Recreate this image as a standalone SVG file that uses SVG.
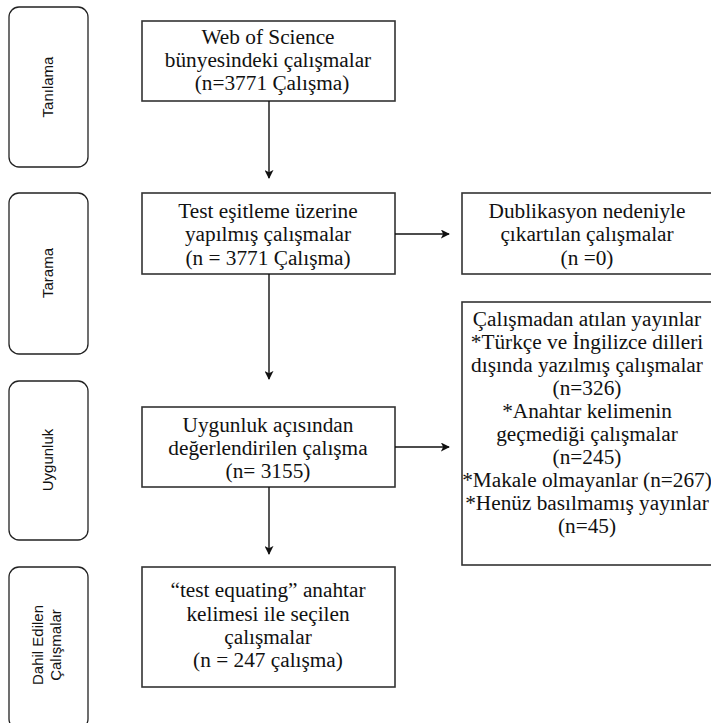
<svg xmlns="http://www.w3.org/2000/svg" width="711" height="723" viewBox="0 0 711 723">
<defs>
<style>
.stage{fill:#fff;stroke:#222;stroke-width:1.3}
.box{fill:#fff;stroke:#333;stroke-width:1.6}
.side{font-family:"Liberation Sans",Arial,sans-serif;font-size:15px;fill:#111;text-anchor:middle}
.t{font-family:"Liberation Serif","Times New Roman",serif;font-size:21.3px;fill:#111;text-anchor:middle}
.conn{stroke:#111;stroke-width:1.4;fill:none}
</style>
<marker id="ah" viewBox="0 0 10 10" refX="9" refY="5" markerWidth="9" markerHeight="9" markerUnits="userSpaceOnUse" orient="auto">
<path d="M0,0 L10,5 L0,10 L2.5,5 z" fill="#111"/>
</marker>
</defs>
<rect width="711" height="723" fill="#fff"/>

<g id="stage-tanilama">
<rect class="stage" x="9" y="7" width="79" height="160" rx="10"/>
<text class="side" transform="translate(53,87) rotate(-90)">Tanılama</text>
</g>
<g id="stage-tarama">
<rect class="stage" x="9" y="193" width="79" height="161" rx="10"/>
<text class="side" transform="translate(53,273) rotate(-90)">Tarama</text>
</g>
<g id="stage-uygunluk">
<rect class="stage" x="9" y="381" width="79" height="159" rx="10"/>
<text class="side" transform="translate(53,460) rotate(-90)">Uygunluk</text>
</g>
<g id="stage-dahil">
<rect class="stage" x="9" y="567" width="79" height="162" rx="10"/>
<text class="side" transform="translate(43,645) rotate(-90)">Dahil Edilen</text>
<text class="side" transform="translate(61,645) rotate(-90)">Çalışmalar</text>
</g>

<g id="node-wos">
<rect class="box" x="142" y="21" width="253" height="80"/>
<text class="t" x="268" y="44">Web of Science</text>
<text class="t" x="268" y="67">bünyesindeki çalışmalar</text>
<text class="t" x="272" y="90">(n=3771 Çalışma)</text>
</g>
<g id="node-test">
<rect class="box" x="142" y="193" width="253" height="81"/>
<text class="t" x="268" y="218">Test eşitleme üzerine</text>
<text class="t" x="268" y="241">yapılmış çalışmalar</text>
<text class="t" x="268" y="265">(n = 3771 Çalışma)</text>
</g>
<g id="node-dub">
<rect class="box" x="462" y="193" width="252" height="81"/>
<text class="t" x="587" y="218">Dublikasyon nedeniyle</text>
<text class="t" x="587" y="241">çıkartılan çalışmalar</text>
<text class="t" x="587" y="265">(n =0)</text>
</g>
<g id="node-uyg">
<rect class="box" x="142" y="407" width="253" height="80"/>
<text class="t" x="268" y="432">Uygunluk açısından</text>
<text class="t" x="268" y="455">değerlendirilen çalışma</text>
<text class="t" x="268" y="478">(n= 3155)</text>
</g>
<g id="node-excl">
<rect class="box" x="462" y="302" width="252" height="263"/>
<text class="t" x="587" y="326">Çalışmadan atılan yayınlar</text>
<text class="t" x="587" y="349">*Türkçe ve İngilizce dilleri</text>
<text class="t" x="587" y="372">dışında yazılmış çalışmalar</text>
<text class="t" x="587" y="395">(n=326)</text>
<text class="t" x="587" y="418">*Anahtar kelimenin</text>
<text class="t" x="587" y="441">geçmediği çalışmalar</text>
<text class="t" x="587" y="464">(n=245)</text>
<text class="t" x="587" y="487">*Makale olmayanlar (n=267)</text>
<text class="t" x="587" y="510">*Henüz basılmamış yayınlar</text>
<text class="t" x="587" y="533">(n=45)</text>
</g>
<g id="node-dahil">
<rect class="box" x="142" y="567" width="253" height="120"/>
<text class="t" x="268" y="597">“test equating” anahtar</text>
<text class="t" x="268" y="621">kelimesi ile seçilen</text>
<text class="t" x="268" y="644">çalışmalar</text>
<text class="t" x="268" y="667">(n = 247 çalışma)</text>
</g>

<g id="connectors">
<line class="conn" x1="269" y1="101" x2="269" y2="178" marker-end="url(#ah)"/>
<line class="conn" x1="395" y1="234" x2="449" y2="234" marker-end="url(#ah)"/>
<line class="conn" x1="269" y1="274" x2="269" y2="379" marker-end="url(#ah)"/>
<line class="conn" x1="395" y1="447" x2="449" y2="447" marker-end="url(#ah)"/>
<line class="conn" x1="269" y1="487" x2="269" y2="554" marker-end="url(#ah)"/>
</g>
</svg>
